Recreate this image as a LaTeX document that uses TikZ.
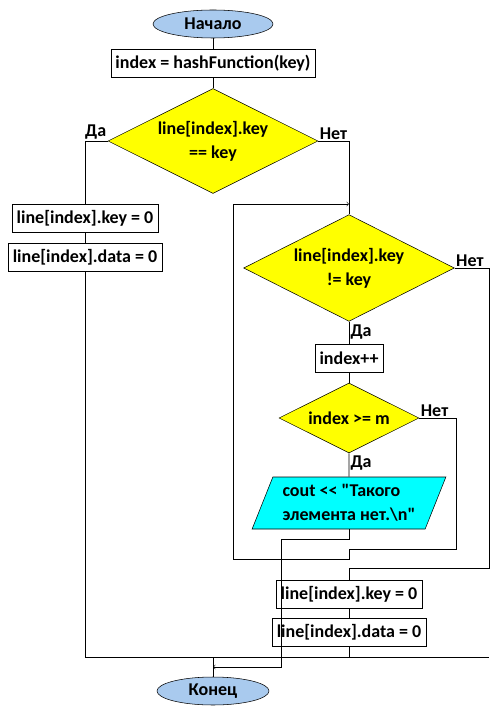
\documentclass[tikz,border=0pt]{standalone}
\usepackage{fontspec}
\setmainfont{Carlito}[Ligatures=TeXOff]
\usetikzlibrary{shapes.geometric}

\definecolor{termblue}{RGB}{169,202,238}
\definecolor{iocyan}{RGB}{0,255,255}
\definecolor{condyellow}{RGB}{255,255,0}

\begin{document}
\begin{tikzpicture}[x=0.75pt,y=-0.75pt]
\tikzstyle{every node}=[font=\bfseries\fontsize{13.5}{18}\selectfont]
\tikzstyle{term}=[ellipse,draw,fill=termblue,minimum width=90pt,minimum height=21pt,inner sep=0pt]
\tikzstyle{proc}=[rectangle,draw,fill=white,minimum height=21pt,inner xsep=3.5pt,inner ysep=0pt]
\tikzstyle{cond}=[diamond,draw,fill=condyellow,inner sep=0pt,shape aspect=2,align=center]
\tikzstyle{io}=[trapezium,trapezium left angle=64,trapezium right angle=116,trapezium stretches=true,draw,fill=iocyan,align=left,inner sep=0pt]
\tikzstyle{lbl}=[inner sep=1pt]
\useasboundingbox (0,0) rectangle (498,716);

\node[term] (start) at (213,24) {Начало};
\node[proc] (hash) at (213,63) {index = hashFunction(key)};
\node[cond,minimum width=157.5pt,minimum height=78.75pt] (check) at (213,141) {line[index].key\\== key};

\node[proc] (keyA) at (85,218) {line[index].key = 0};
\node[proc] (dataA) at (85,257) {line[index].data = 0};

\node[cond,minimum width=158pt,minimum height=80pt] (probe) at (349,268) {line[index].key\\!= key};
\node[proc] (inc) at (349,358) {index++};
\node[cond,minimum width=105pt,minimum height=52.5pt] (bound) at (349,418) {index >= m};
\node[io,minimum width=145.5pt,minimum height=39pt] (msg) at (349,503) {cout << "Такого\\элемента нет.\textbackslash n"};

\node[proc] (keyB) at (349,594) {line[index].key = 0};
\node[proc] (dataB) at (349,632) {line[index].data = 0};

\node[term,minimum width=84pt] (end) at (213,691) {Конец};

% points of the loops
\coordinate (loopL) at (233,204);
\coordinate (loopA) at (349,204);
\coordinate (boundR) at (456,549);
\coordinate (loopB) at (349,559);
\coordinate (probeR) at (489,568);
\coordinate (msgL) at (281,539);
\coordinate (joinA) at (213,667);
\coordinate (join) at (213,657);
\coordinate (joinR) at (489,657);

\draw (start) -- (hash);
\draw (hash) -- (check);
\draw (check.west) -| (keyA.north);
\draw (keyA) -- (dataA);
\draw (dataA.south) |- (joinR);
\draw (check.east) -| (probe.north);
\draw[->] (bound.east) -| (boundR) -| (loopB) -| (loopL) -- (loopA);
\draw (probe.east) -| (probeR) -| (keyB.north);
\draw (probe.south) -- (inc);
\draw (inc) -- (bound);
\draw (bound.south) -- (msg.north);
\draw[->] (msg.south) |- (msgL) |- (joinA);
\draw (keyB) -- (dataB);
\draw (dataB.south) -- (dataB.south |- join);
\draw (join) -- (end);

\node[lbl,anchor=south east] at (check.west) {Да};
\node[lbl,anchor=south west] at (check.east) {Нет};
\node[lbl,anchor=south west] at (probe.east) {Нет};
\node[lbl,anchor=north west] at ([yshift=-1pt]probe.south) {Да};
\node[lbl,anchor=south west] at (bound.east) {Нет};
\node[lbl,anchor=north west] at ([yshift=-1pt]bound.south) {Да};
\end{tikzpicture}
\end{document}
